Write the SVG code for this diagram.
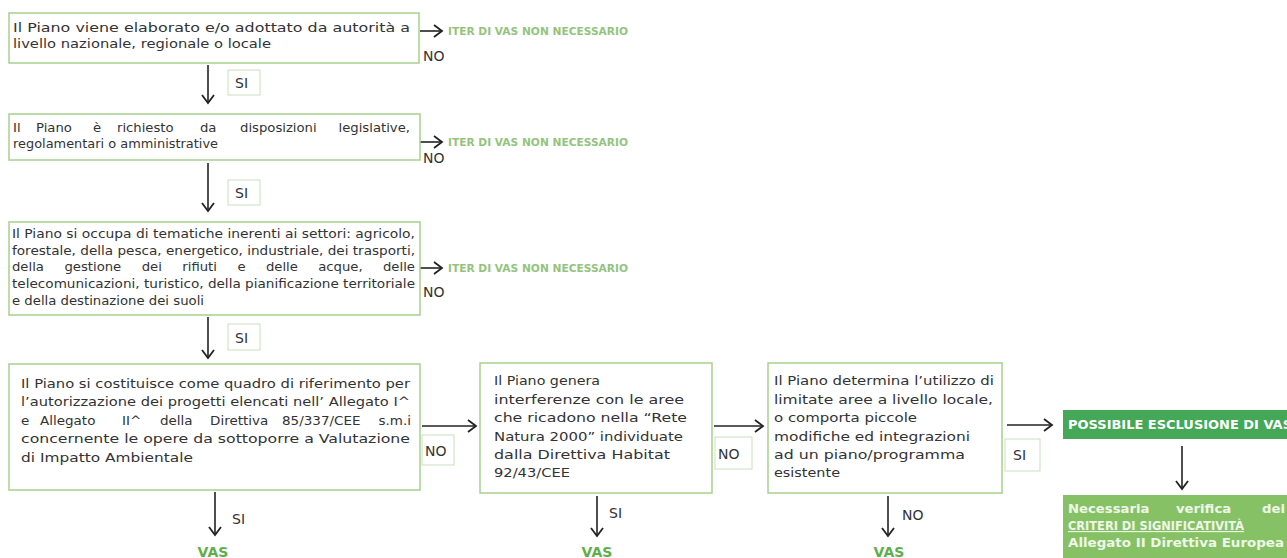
<svg xmlns="http://www.w3.org/2000/svg" width="1287" height="558" viewBox="0 0 1287 558">
<defs>
<marker id="ah" markerUnits="userSpaceOnUse" markerWidth="12" markerHeight="14" refX="9" refY="7" orient="auto">
<path d="M1,1 L9,7 L1,13" fill="none" stroke="#222" stroke-width="1.8"/>
</marker>
<style>
.box{fill:#fff;stroke:#a9d08e;stroke-width:1.5}
.lbl{fill:#fff;stroke:#c9dfbb;stroke-width:1}
.t{font-family:"DejaVu Sans","Liberation Sans",sans-serif;font-size:11.5px;fill:#333}
.t2{font-family:"DejaVu Sans","Liberation Sans",sans-serif;font-size:12.5px;fill:#333}
.yn{font-family:"DejaVu Sans","Liberation Sans",sans-serif;font-size:14px;fill:#333}
.iter{font-family:"DejaVu Sans","Liberation Sans",sans-serif;font-size:10.5px;font-weight:bold;fill:#93c47d}
.vas{font-family:"DejaVu Sans","Liberation Sans",sans-serif;font-size:14px;font-weight:bold;fill:#5fae4a}
.wt{font-family:"DejaVu Sans","Liberation Sans",sans-serif;font-size:11.5px;font-weight:bold;fill:#ffffff}
.wt2{font-family:"DejaVu Sans","Liberation Sans",sans-serif;font-size:11.5px;font-weight:bold;fill:#eef7e8}
.c{fill:none;stroke:#222;stroke-width:1.6;marker-end:url(#ah)}
</style>
</defs>
<rect width="1287" height="558" fill="#fff"/>

<g id="connectors">
<line class="c" x1="420" y1="31" x2="442" y2="31"/>
<line class="c" x1="208" y1="65" x2="208" y2="103"/>
<line class="c" x1="420" y1="142" x2="442" y2="142"/>
<line class="c" x1="208" y1="163" x2="208" y2="211"/>
<line class="c" x1="420" y1="268" x2="442" y2="268"/>
<line class="c" x1="208" y1="317" x2="208" y2="358"/>
<line class="c" x1="422" y1="426" x2="476" y2="426"/>
<line class="c" x1="714" y1="426" x2="763" y2="426"/>
<line class="c" x1="1007" y1="425" x2="1052" y2="425"/>
<line class="c" x1="215" y1="492" x2="215" y2="535"/>
<line class="c" x1="597" y1="496" x2="597" y2="536"/>
<line class="c" x1="888" y1="496" x2="888" y2="536"/>
<line class="c" x1="1182" y1="446" x2="1182" y2="489"/>
</g>

<g id="n1">
<rect class="box" x="9" y="13" width="410" height="50"/>
<text class="t" x="13" y="32" textLength="397" lengthAdjust="spacingAndGlyphs">Il Piano viene elaborato e/o adottato da autorità a</text>
<text class="t" x="13" y="48" textLength="258" lengthAdjust="spacingAndGlyphs">livello nazionale, regionale o locale</text>
</g>
<g id="l1">
<text class="yn" x="423" y="61">NO</text>
<text class="iter" x="448" y="35" textLength="180" lengthAdjust="spacingAndGlyphs">ITER DI VAS NON NECESSARIO</text>
<rect class="lbl" x="228" y="70" width="32" height="25"/>
<text class="yn" x="235" y="88">SI</text>
</g>

<g id="n2">
<rect class="box" x="9" y="114" width="411" height="46"/>
<text class="t" y="132" transform="matrix(1.15,0,0,1,-1.95,0)"><tspan x="13">Il</tspan><tspan x="33">Piano</tspan><tspan x="82.6">è</tspan><tspan x="103.4">richiesto</tspan><tspan x="175.6">da</tspan><tspan x="210.4">disposizioni</tspan><tspan x="358.2" text-anchor="end">legislative,</tspan></text>
<text class="t" x="13" y="148" textLength="205" lengthAdjust="spacingAndGlyphs">regolamentari o amministrative</text>
</g>
<g id="l2">
<text class="yn" x="423" y="163">NO</text>
<text class="iter" x="448" y="146" textLength="180" lengthAdjust="spacingAndGlyphs">ITER DI VAS NON NECESSARIO</text>
<rect class="lbl" x="228" y="180" width="32" height="25"/>
<text class="yn" x="235" y="198">SI</text>
</g>

<g id="n3">
<rect class="box" x="9" y="222" width="411" height="93"/>
<text class="t" x="12" y="238" textLength="403" lengthAdjust="spacingAndGlyphs">Il Piano si occupa di tematiche inerenti ai settori: agricolo,</text>
<text class="t" x="12" y="255" textLength="403" lengthAdjust="spacingAndGlyphs">forestale, della pesca, energetico, industriale, dei trasporti,</text>
<text class="t" y="271" transform="matrix(1.15,0,0,1,-1.8,0)"><tspan x="12">della</tspan><tspan x="57.6">gestione</tspan><tspan x="124.8">dei</tspan><tspan x="160.1">rifiuti</tspan><tspan x="208">e</tspan><tspan x="232.8">delle</tspan><tspan x="278.3">acque,</tspan><tspan x="362.4" text-anchor="end">delle</tspan></text>
<text class="t" x="12" y="288" textLength="403" lengthAdjust="spacingAndGlyphs">telecomunicazioni, turistico, della pianificazione territoriale</text>
<text class="t" x="12" y="305" textLength="192" lengthAdjust="spacingAndGlyphs">e della destinazione dei suoli</text>
</g>
<g id="l3">
<text class="yn" x="423" y="297">NO</text>
<text class="iter" x="448" y="272" textLength="180" lengthAdjust="spacingAndGlyphs">ITER DI VAS NON NECESSARIO</text>
<rect class="lbl" x="228" y="324" width="32" height="26"/>
<text class="yn" x="235" y="343">SI</text>
</g>

<g id="n4">
<rect class="box" x="9" y="364" width="411" height="126"/>
<text class="t2" x="21" y="388" textLength="389" lengthAdjust="spacingAndGlyphs">Il Piano si costituisce come quadro di riferimento per</text>
<text class="t2" x="21" y="406" textLength="389" lengthAdjust="spacingAndGlyphs">l’autorizzazione dei progetti elencati nell’ Allegato I^</text>
<text class="t2" y="425" transform="matrix(1.08,0,0,1,-1.68,0)"><tspan x="21">e</tspan><tspan x="38.6">Allegato</tspan><tspan x="114.5">II^</tspan><tspan x="149.7">della</tspan><tspan x="196">Direttiva</tspan><tspan x="262.7">85/337/CEE</tspan><tspan x="382.1" text-anchor="end">s.m.i</tspan></text>
<text class="t2" x="21" y="443" textLength="389" lengthAdjust="spacingAndGlyphs">concernente le opere da sottoporre a Valutazione</text>
<text class="t2" x="21" y="462" textLength="172" lengthAdjust="spacingAndGlyphs">di Impatto Ambientale</text>
</g>
<g id="l4">
<rect class="lbl" x="422" y="435" width="32" height="30"/>
<text class="yn" x="425" y="456">NO</text>
<text class="yn" x="232" y="524">SI</text>
<text class="vas" x="213" y="557" text-anchor="middle">VAS</text>
</g>

<g id="n5">
<rect class="box" x="480" y="363" width="232" height="130"/>
<text class="t2" x="494" y="385" textLength="106" lengthAdjust="spacingAndGlyphs">Il Piano genera</text>
<text class="t2" x="494" y="404" textLength="190" lengthAdjust="spacingAndGlyphs">interferenze con le aree</text>
<text class="t2" x="494" y="422" textLength="193" lengthAdjust="spacingAndGlyphs">che ricadono nella “Rete</text>
<text class="t2" x="494" y="441" textLength="189" lengthAdjust="spacingAndGlyphs">Natura 2000” individuate</text>
<text class="t2" x="494" y="459" textLength="176" lengthAdjust="spacingAndGlyphs">dalla Direttiva Habitat</text>
<text class="t2" x="494" y="477" textLength="76" lengthAdjust="spacingAndGlyphs">92/43/CEE</text>
</g>
<g id="l5">
<rect class="lbl" x="715" y="437" width="37" height="32"/>
<text class="yn" x="718" y="459">NO</text>
<text class="yn" x="609" y="518">SI</text>
<text class="vas" x="597" y="557" text-anchor="middle">VAS</text>
</g>

<g id="n6">
<rect class="box" x="768" y="363" width="234" height="130"/>
<text class="t2" x="774" y="385" textLength="220" lengthAdjust="spacingAndGlyphs">Il Piano determina l’utilizzo di</text>
<text class="t2" x="774" y="404" textLength="219" lengthAdjust="spacingAndGlyphs">limitate aree a livello locale,</text>
<text class="t2" x="774" y="422" textLength="143" lengthAdjust="spacingAndGlyphs">o comporta piccole</text>
<text class="t2" x="774" y="441" textLength="196" lengthAdjust="spacingAndGlyphs">modifiche ed integrazioni</text>
<text class="t2" x="774" y="459" textLength="191" lengthAdjust="spacingAndGlyphs">ad un piano/programma</text>
<text class="t2" x="774" y="477" textLength="66" lengthAdjust="spacingAndGlyphs">esistente</text>
</g>
<g id="l6">
<rect class="lbl" x="1005" y="439" width="35" height="32"/>
<text class="yn" x="1013" y="460">SI</text>
<text class="yn" x="902" y="520">NO</text>
<text class="vas" x="889" y="557" text-anchor="middle">VAS</text>
</g>

<g id="n7">
<rect x="1063" y="410" width="230" height="29" fill="#44a857"/>
<text class="wt" x="1068" y="429" textLength="224" lengthAdjust="spacingAndGlyphs">POSSIBILE ESCLUSIONE DI VAS</text>
</g>

<g id="n8">
<rect x="1063" y="495" width="230" height="70" fill="#86c265"/>
<text class="wt2" y="513" transform="matrix(1.15,0,0,1,-160.2,0)"><tspan x="1068">Necessaria</tspan><tspan x="1161.9">verifica</tspan><tspan x="1236.7">dei</tspan></text>
<text class="wt2" x="1068" y="530" textLength="176" lengthAdjust="spacingAndGlyphs" text-decoration="underline">CRITERI DI SIGNIFICATIVITÀ</text>
<text class="wt2" x="1068" y="547" textLength="216" lengthAdjust="spacingAndGlyphs">Allegato II Direttiva Europea</text>
</g>
</svg>
